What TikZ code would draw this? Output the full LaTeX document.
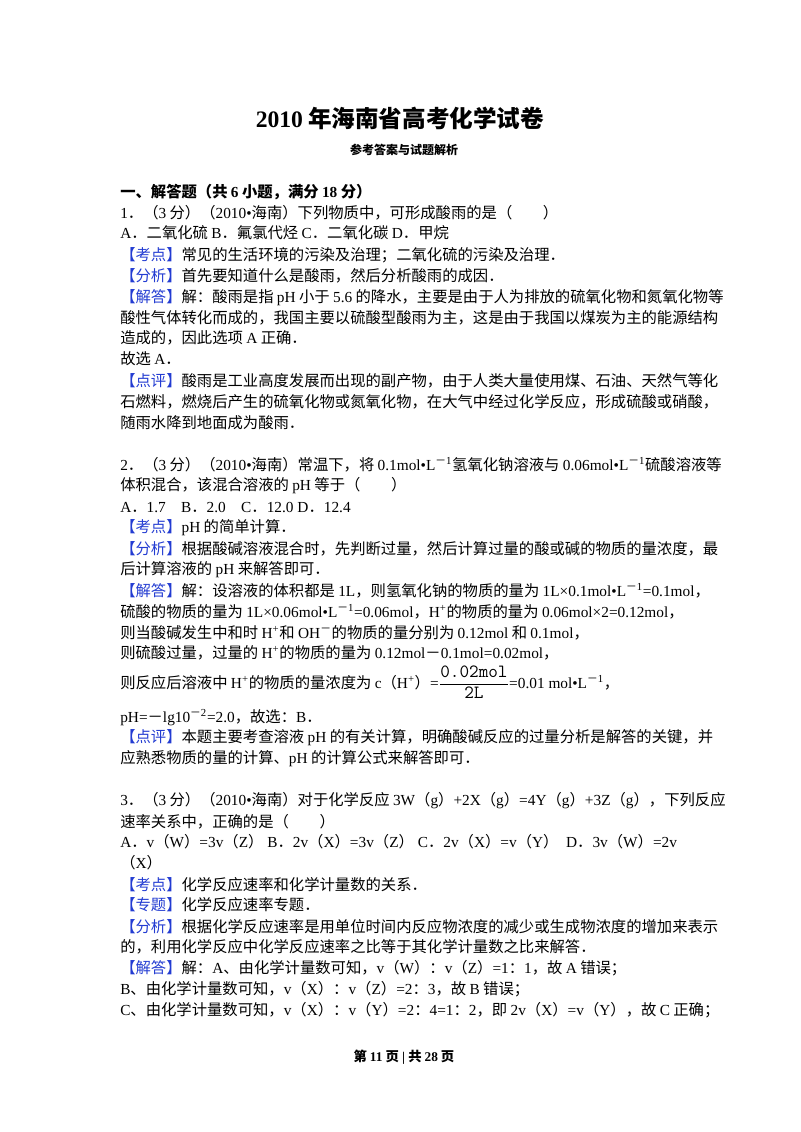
\documentclass[tikz,border=0pt]{standalone}
\usepackage{fontspec}
\setmainfont{Liberation Serif}
\newfontfamily\cjk{Noto Sans CJK SC}
\definecolor{lblue}{RGB}{35,60,210}
\newXeTeXintercharclass\cjkcls
\newXeTeXintercharclass\cjkpun
\newXeTeXintercharclass\bulcls
\count255="4E00 \loop\XeTeXcharclass\count255=\cjkcls\ifnum\count255<"9FFF \advance\count255 1 \repeat
\count255="3000 \loop\XeTeXcharclass\count255=\cjkpun\ifnum\count255<"303F \advance\count255 1 \repeat
\count255="FF00 \loop\XeTeXcharclass\count255=\cjkpun\ifnum\count255<"FFEF \advance\count255 1 \repeat
\XeTeXcharclass"2022=\bulcls
\XeTeXinterchartoks 0 \cjkcls={\hskip0.22em\cjk}
\XeTeXinterchartoks \bulcls \cjkcls={\cjk}
\XeTeXinterchartoks 4095 \cjkcls={\cjk}
\XeTeXinterchartoks 0 \cjkpun={\cjk}
\XeTeXinterchartoks \bulcls \cjkpun={\cjk}
\XeTeXinterchartoks 4095 \cjkpun={\cjk}
\XeTeXinterchartoks \cjkcls 0={\hskip0.22em\rmfamily}
\XeTeXinterchartoks \cjkcls \bulcls={\rmfamily}
\XeTeXinterchartoks \cjkcls 4095={\rmfamily}
\XeTeXinterchartoks \cjkpun 0={\rmfamily}
\XeTeXinterchartoks \cjkpun \bulcls={\rmfamily}
\XeTeXinterchartoks \cjkpun 4095={\rmfamily}
\XeTeXinterchartokenstate=1
\newcommand\kd[1]{\textcolor{lblue}{【#1】}}
\newcommand\sps[1]{\textsuperscript{#1}}
\tikzset{txt/.style={anchor=base west,inner sep=0pt,font=\fontsize{11.5}{14}\selectfont}}
\newcommand\tline[3]{\node[txt] (#1) at (120,#2) {#3};}
\begin{document}
\begin{tikzpicture}[x=0.75pt,y=-0.75pt]
\useasboundingbox (0,0) rectangle (800,1132);
\fill[white] (0,0) rectangle (800,1132);
\node[inner sep=0pt,font=\bfseries\fontsize{17.7}{20}\selectfont] (title) at (400,118) {2010年海南省高考化学试卷};
\node[inner sep=0pt,font=\bfseries\fontsize{9}{10}\selectfont] (sub) at (404,150) {参考答案与试题解析};
\tline{s1}{197}{\bfseries 一、解答题（共6小题，满分18分）}
\tline{a1}{218}{1．（3分）（2010•海南）下列物质中，可形成酸雨的是（\quad\quad）}
\tline{a2}{238}{A．二氧化硫B．氟氯代烃C．二氧化碳D．甲烷}
\tline{a3}{260}{\kd{考点}常见的生活环境的污染及治理；二氧化硫的污染及治理．}
\tline{a4}{281}{\kd{分析}首先要知道什么是酸雨，然后分析酸雨的成因．}
\tline{a5}{302}{\kd{解答}解：酸雨是指pH小于5.6的降水，主要是由于人为排放的硫氧化物和氮氧化物等}
\tline{a6}{323}{酸性气体转化而成的，我国主要以硫酸型酸雨为主，这是由于我国以煤炭为主的能源结构}
\tline{a7}{343}{造成的，因此选项A正确．}
\tline{a8}{364}{故选A．}
\tline{a9}{386}{\kd{点评}酸雨是工业高度发展而出现的副产物，由于人类大量使用煤、石油、天然气等化}
\tline{a10}{407}{石燃料，燃烧后产生的硫氧化物或氮氧化物，在大气中经过化学反应，形成硫酸或硝酸，}
\tline{a11}{428}{随雨水降到地面成为酸雨．}
\tline{b1}{470}{2．（3分）（2010•海南）常温下，将0.1mol•L\sps{－1}氢氧化钠溶液与0.06mol•L\sps{－1}硫酸溶液等}
\tline{b2}{490}{体积混合，该混合溶液的pH等于（\quad\quad）}
\tline{b3}{512}{A．1.7\quad B．2.0\quad C．12.0 D．12.4}
\tline{b4}{532}{\kd{考点}pH的简单计算．}
\tline{b5}{554}{\kd{分析}根据酸碱溶液混合时，先判断过量，然后计算过量的酸或碱的物质的量浓度，最}
\tline{b6}{574}{后计算溶液的pH来解答即可．}
\tline{b7}{596}{\kd{解答}解：设溶液的体积都是1L，则氢氧化钠的物质的量为1L×0.1mol•L\sps{－1}=0.1mol，}
\tline{b8}{617}{硫酸的物质的量为1L×0.06mol•L\sps{－1}=0.06mol，H\sps{+}的物质的量为0.06mol×2=0.12mol，}
\tline{b9}{638}{则当酸碱发生中和时H\sps{+}和OH\sps{－}的物质的量分别为0.12mol和0.1mol，}
\tline{b10}{658}{则硫酸过量，过量的H\sps{+}的物质的量为0.12mol－0.1mol=0.02mol，}
\tline{b11}{688}{则反应后溶液中H\sps{+}的物质的量浓度为c（H\sps{+}）=$\displaystyle\frac{\hbox{\ttfamily\fontsize{14}{16}\selectfont 0.02mol}}{\hbox{\ttfamily\fontsize{14}{16}\selectfont 2L}}$=0.01 mol•L\sps{－1}，}
\tline{b12}{722}{pH=－lg10\sps{－2}=2.0，故选：B．}
\tline{b13}{742}{\kd{点评}本题主要考查溶液pH的有关计算，明确酸碱反应的过量分析是解答的关键，并}
\tline{b14}{763}{应熟悉物质的量的计算、pH的计算公式来解答即可．}
\tline{c1}{805}{3．（3分）（2010•海南）对于化学反应3W（g）+2X（g）=4Y（g）+3Z（g），下列反应}
\tline{c2}{827}{速率关系中，正确的是（\quad\quad）}
\tline{c3}{847}{A．v（W）=3v（Z）\ B．2v（X）=3v（Z）\ C．2v（X）=v（Y）\ \ D．3v（W）=2v}
\tline{c4}{868}{（X）}
\tline{c5}{890}{\kd{考点}化学反应速率和化学计量数的关系．}
\tline{c6}{910}{\kd{专题}化学反应速率专题．}
\tline{c7}{932}{\kd{分析}根据化学反应速率是用单位时间内反应物浓度的减少或生成物浓度的增加来表示}
\tline{c8}{952}{的，利用化学反应中化学反应速率之比等于其化学计量数之比来解答．}
\tline{c9}{973}{\kd{解答}解：A、由化学计量数可知，v（W）：v（Z）=1：1，故A错误；}
\tline{c10}{994}{B、由化学计量数可知，v（X）：v（Z）=2：3，故B错误；}
\tline{c11}{1015}{C、由化学计量数可知，v（X）：v（Y）=2：4=1：2，即2v（X）=v（Y），故C正确；}
\node[inner sep=0pt,font=\bfseries\fontsize{10}{12}\selectfont] (foot) at (404,1057) {第11页 | 共28页};
\end{tikzpicture}
\end{document}
